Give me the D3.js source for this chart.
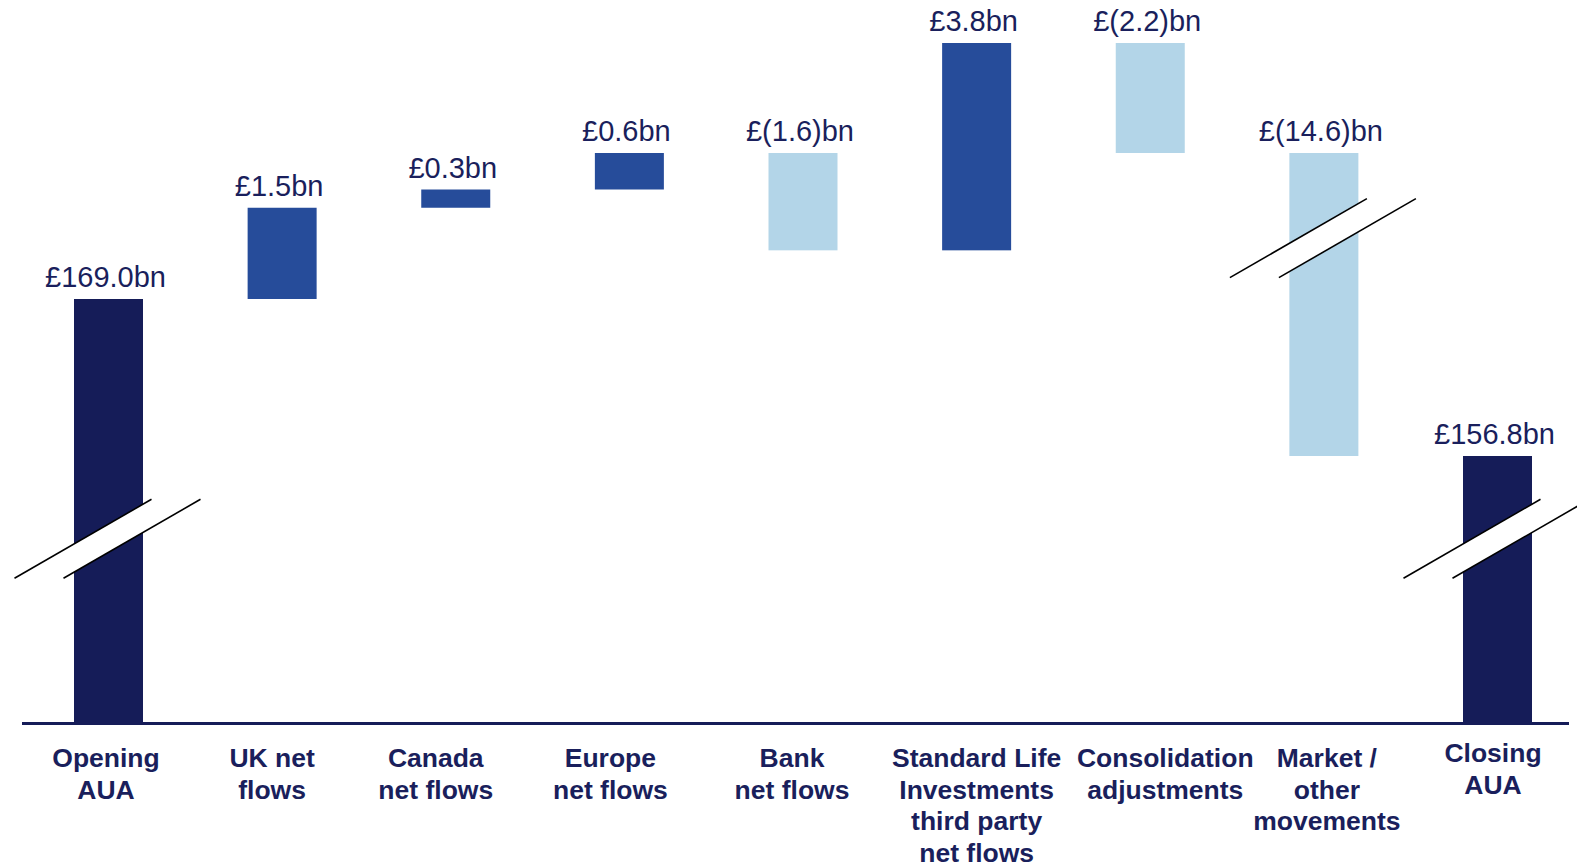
<!DOCTYPE html>
<html>
<head>
<meta charset="utf-8">
<script src="https://cdn.jsdelivr.net/npm/d3@7/dist/d3.min.js"></script>
<style>
  html, body { margin: 0; padding: 0; background: #ffffff; }
  svg { display: block; }
</style>
</head>
<body>
<svg id="chart" width="1577" height="865"></svg>
<script>
// ---- data ----
const categories = [
  ["Opening", "AUA"],
  ["UK net", "flows"],
  ["Canada", "net flows"],
  ["Europe", "net flows"],
  ["Bank", "net flows"],
  ["Standard Life", "Investments", "third party", "net flows"],
  ["Consolidation", "adjustments"],
  ["Market /", "other", "movements"],
  ["Closing", "AUA"]
];
const values = [169.0, 1.5, 0.3, 0.6, -1.6, 3.8, -2.2, -14.6, 156.8];
const kinds  = ["total", "delta", "delta", "delta", "delta", "delta", "delta", "delta", "total"];
// value at which an axis-break marker is drawn on a bar
const breakCategories = [0, 7, 8];
const breakValues     = [108, 170.0, 108];
// knots of the broken value axis
const axisKnots = [0, 156.8, 169.0, 171.4, 173.6];

// ---- layout ----
const W = 1577, H = 865;
const baseY = 722;
const colors = { total: "#151c58", up: "#264c9a", down: "#b3d5e8", text: "#1a1f5c" };
// horizontal nudge of each category label relative to its bar (layout only)
const labelDx = [-2.5, -10, -20, -19, -11, 0, 15, 3, -4.5];
const labelDy = [0, 0, 0, 0, 0, 0, 0, 0, -5];

const svg = d3.select("#chart");

const x = d3.scalePoint().domain(d3.range(values.length)).range([108.5, 1497.5]);
const y = d3.scaleLinear().domain(axisKnots).range([baseY, 456, 299, 153, 43]);
const barW = 69;

// waterfall cumulative
let run = 0;
const bars = values.map((v, i) => {
  let y0, y1;
  if (kinds[i] === "total") { y0 = 0; y1 = v; run = v; }
  else { y0 = run; y1 = run + v; run = y1; }
  return { i, v, lo: Math.min(y0, y1), hi: Math.max(y0, y1), kind: kinds[i] };
});

const fill = d => d.kind === "total" ? colors.total : (d.v >= 0 ? colors.up : colors.down);

svg.append("g").selectAll("rect").data(bars).join("rect")
  .attr("x", d => x(d.i) - barW / 2)
  .attr("width", barW)
  .attr("y", d => y(d.hi))
  .attr("height", d => y(d.lo) - y(d.hi))
  .attr("fill", fill);

// value labels
const fmt = v => {
  const a = Math.abs(v).toFixed(1);
  return v < 0 ? `£(${a})bn` : `£${a}bn`;
};
svg.append("g").selectAll("text").data(bars).join("text")
  .attr("x", d => x(d.i) - 3)
  .attr("y", d => y(d.hi) - 12)
  .attr("text-anchor", "middle")
  .attr("font-family", "'Liberation Sans', Arial, sans-serif")
  .attr("font-size", 29)
  .attr("fill", colors.text)
  .text(d => fmt(d.v));

// axis line
svg.append("line")
  .attr("x1", 22).attr("x2", 1569)
  .attr("y1", baseY + 1.5).attr("y2", baseY + 1.5)
  .attr("stroke", colors.total).attr("stroke-width", 3);

// category labels
const lab = svg.append("g")
  .attr("font-family", "'Liberation Sans', Arial, sans-serif")
  .attr("font-size", 26.5)
  .attr("font-weight", "bold")
  .attr("fill", colors.text)
  .attr("text-anchor", "middle");
categories.forEach((lines, i) => {
  const cx = x(i) + labelDx[i];
  const t = lab.append("text").attr("x", cx).attr("y", 767 + labelDy[i]);
  lines.forEach((s, k) => {
    t.append("tspan").attr("x", cx).attr("dy", k === 0 ? 0 : 31.6).text(s);
  });
});

// axis break markers
const bg = svg.append("g");
breakCategories.forEach((ci, k) => {
  const cx = x(ci), cy = y(breakValues[k]);
  const L1 = [[cx - 94, cy + 39.5], [cx + 43, cy - 39.5]];
  const L2 = [[cx - 45, cy + 39.5], [cx + 92, cy - 39.5]];
  bg.append("polygon")
    .attr("points", [L1[0], L1[1], L2[1], L2[0]].map(p => p.join(",")).join(" "))
    .attr("fill", "#ffffff");
  [L1, L2].forEach(L => {
    bg.append("line")
      .attr("x1", L[0][0]).attr("y1", L[0][1])
      .attr("x2", L[1][0]).attr("y2", L[1][1])
      .attr("stroke", "#000000").attr("stroke-width", 1.6);
  });
});
</script>
</body>
</html>
